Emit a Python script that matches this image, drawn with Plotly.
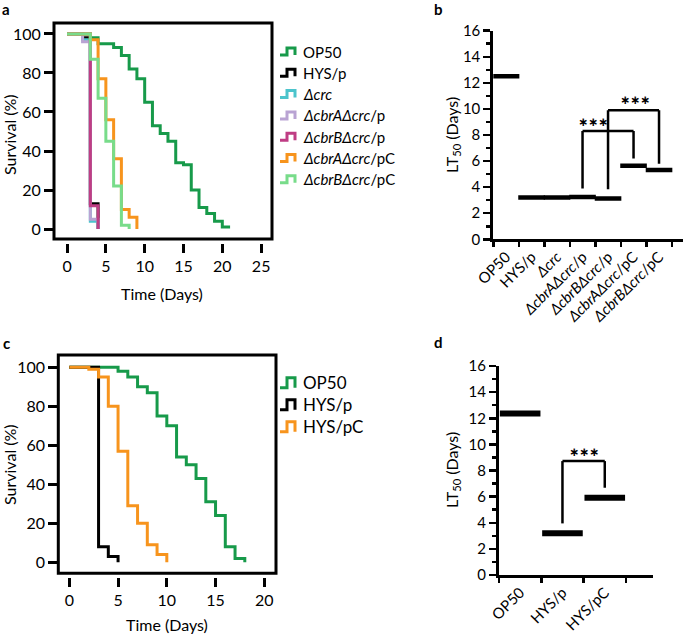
import plotly.graph_objects as go

# ---------------- data ----------------
# Panel a: Kaplan-Meier survival (days, % surviving after each step)
a_names = ["OP50", "HYS/p", "<i>Δcrc</i>", "<i>ΔcbrAΔcrc</i>/p", "<i>ΔcbrBΔcrc</i>/p",
           "<i>ΔcbrAΔcrc</i>/pC", "<i>ΔcbrBΔcrc</i>/pC"]
a_op50_t = [0, 3, 4, 6, 7, 8, 9, 10, 11, 12, 13, 14, 15, 16, 17, 18, 19, 20, 21]
a_op50_s = [100, 98, 95, 93, 89, 82, 77, 65, 53, 49, 45, 34, 33, 20, 11, 8, 4, 1, 1]
a_hys_t = [0, 2, 3, 4]
a_hys_s = [100, 98, 13, 0]
a_crc_t = [0, 2, 3, 4]
a_crc_s = [100, 97, 4, 0]
a_cbrA_p_t = [0, 2, 3, 4]
a_cbrA_p_s = [100, 96, 5, 0]
a_cbrB_p_t = [0, 3, 4]
a_cbrB_p_s = [100, 12, 0]
a_cbrA_pC_t = [0, 3, 4, 5, 6, 7, 8, 9]
a_cbrA_pC_s = [100, 97, 77, 56, 36, 10, 6, 0]
a_cbrB_pC_t = [0, 3, 4, 5, 6, 7, 8]
a_cbrB_pC_s = [100, 87, 67, 45, 22, 2, 0]

# Panel c
c_names = ["OP50", "HYS/p", "HYS/pC"]
c_op50_t = [0, 5, 6, 7, 8, 9, 10, 11, 12, 13, 14, 15, 16, 17, 18]
c_op50_s = [100, 98, 95, 90, 87, 75, 70, 54, 50, 43, 31, 24, 8, 2, 0]
c_hys_t = [0, 3, 4, 5]
c_hys_s = [100, 8, 3, 0]
c_hyspC_t = [0, 2, 3, 4, 5, 6, 7, 8, 9, 10]
c_hyspC_s = [100, 99, 95, 80, 57, 29, 20, 9, 4, 0]

# Panel b: LT50 (days)
b_cats = ["OP50", "HYS/p", "<i>Δcrc</i>", "<i>ΔcbrAΔcrc</i>/p", "<i>ΔcbrBΔcrc</i>/p",
          "<i>ΔcbrAΔcrc</i>/pC", "<i>ΔcbrBΔcrc</i>/pC"]
b_lt50 = [12.5, 3.2, 3.2, 3.25, 3.12, 5.65, 5.32]
# brackets: (left idx, right idx, left bottom, top, right bottom, star x, star y)
b_brackets = [(3, 5, 3.9, 8.3, 6.2, 3.42, 9.0),
              (4, 6, 3.84, 9.9, 5.8, 5.06, 10.7)]

# Panel d
d_cats = ["OP50", "HYS/p", "HYS/pC"]
d_lt50 = [12.37, 3.19, 5.92]
d_brackets = [(1, 2, 3.95, 8.72, 6.68, 1.5, 9.44)]

y_ticks_surv = [0, 20, 40, 60, 80, 100]
a_xticks = [0, 5, 10, 15, 20, 25]
c_xticks = [0, 5, 10, 15, 20]
lt_ticks = [0, 2, 4, 6, 8, 10, 12, 14, 16]
lt_minor = [1, 3, 5, 7, 9, 11, 13, 15]

# ---------------- styling ----------------
W, H = 685, 638
FONT = "Lato"
a_colors = ["#179a4a", "#000000", "#4cc4cc", "#b9a3d3", "#bf3d84", "#f7941d", "#78dc8a"]
c_colors = ["#179a4a", "#000000", "#f7941d"]


def px(x):
    return x / W


def py(y):
    return 1 - y / H


fig = go.Figure()

a_series = [(a_op50_t, a_op50_s), (a_hys_t, a_hys_s), (a_crc_t, a_crc_s),
            (a_cbrA_p_t, a_cbrA_p_s), (a_cbrB_p_t, a_cbrB_p_s),
            (a_cbrA_pC_t, a_cbrA_pC_s), (a_cbrB_pC_t, a_cbrB_pC_s)]
for (t, s), col, nm in zip(a_series, a_colors, a_names):
    fig.add_trace(go.Scatter(x=t, y=s, mode="lines", line=dict(color=col, width=3, shape="hv"),
                             name=nm, xaxis="x", yaxis="y", showlegend=False))

c_series = [(c_op50_t, c_op50_s), (c_hys_t, c_hys_s), (c_hyspC_t, c_hyspC_s)]
for (t, s), col, nm in zip(c_series, c_colors, c_names):
    fig.add_trace(go.Scatter(x=t, y=s, mode="lines", line=dict(color=col, width=3, shape="hv"),
                             name=nm, xaxis="x2", yaxis="y2", showlegend=False))

fig.add_trace(go.Scatter(x=b_cats, y=b_lt50, mode="markers", xaxis="x3", yaxis="y3",
                         marker=dict(symbol="line-ew", size=19, color="black",
                                     line=dict(color="black", width=4.5)),
                         showlegend=False))
fig.add_trace(go.Scatter(x=d_cats, y=d_lt50, mode="markers", xaxis="x4", yaxis="y4",
                         marker=dict(symbol="line-ew", size=29, color="black",
                                     line=dict(color="black", width=6)),
                         showlegend=False))

shapes = []
annotations = []

# frames for survival plots
for xa, ya in [("x", "y"), ("x2", "y2")]:
    shapes.append(dict(type="rect", xref=f"{xa} domain", yref=f"{ya} domain",
                       x0=0, x1=1, y0=0, y1=1, line=dict(color="black", width=3)))

# brackets
for xa, ya, brs in [("x3", "y3", b_brackets), ("x4", "y4", d_brackets)]:
    for (l, r, lb, top, rb, sx, sy) in brs:
        ln = dict(color="black", width=2.5)
        shapes.append(dict(type="line", xref=xa, yref=ya, x0=l, x1=l, y0=lb, y1=top, line=ln))
        shapes.append(dict(type="line", xref=xa, yref=ya, x0=l, x1=r, y0=top, y1=top, line=ln))
        shapes.append(dict(type="line", xref=xa, yref=ya, x0=r, x1=r, y0=top, y1=rb, line=ln))
        annotations.append(dict(xref=xa, yref=ya, x=sx, y=sy, text="<b>∗∗∗</b>",
                                showarrow=False, font=dict(size=12, color="black", family="DejaVu Sans"),
                                xanchor="center", yanchor="middle"))

# custom legends
def legend(names, colors, x_icon, y0, dy, h, fsize):
    for i, (nm, col) in enumerate(zip(names, colors)):
        yc = y0 + dy * i
        path = (f"M {px(x_icon)},{py(yc + h / 2)} L {px(x_icon + 7)},{py(yc + h / 2)} "
                f"L {px(x_icon + 7)},{py(yc - h / 2)} L {px(x_icon + 15)},{py(yc - h / 2)} "
                f"L {px(x_icon + 15)},{py(yc + h / 2)}")
        shapes.append(dict(type="path", xref="paper", yref="paper", path=path,
                           line=dict(color=col, width=3)))
        annotations.append(dict(xref="paper", yref="paper", x=px(x_icon + 21), y=py(yc),
                                text=nm, showarrow=False, xanchor="left", yanchor="middle",
                                font=dict(size=fsize, color="black", family=FONT)))


legend(a_names, a_colors, 280, 51.5, 21.3, 7, 15)
legend(c_names, c_colors, 280, 382.7, 22, 10, 17)

# axis titles & panel labels
def text(x, y, s, size, angle=0, bold=False):
    annotations.append(dict(xref="paper", yref="paper", x=px(x), y=py(y),
                            text=f"<b>{s}</b>" if bold else s, showarrow=False,
                            xanchor="center", yanchor="middle", textangle=angle,
                            font=dict(size=size, color="black", family=FONT)))


text(162, 293, "Time (Days)", 16)
text(9, 135, "Survival (%)", 16, -90)
text(167, 624, "Time (Days)", 16)
text(9, 465, "Survival (%)", 16, -90)
text(452, 135, "LT<sub>50</sub> (Days)", 16, -90)
text(452, 470, "LT<sub>50</sub> (Days)", 16, -90)
text(6, 9, "a", 15, bold=True)
text(439, 9, "b", 15, bold=True)
text(6, 343, "c", 15, bold=True)
text(439, 342, "d", 15, bold=True)

tickfont16 = dict(size=16, color="black", family=FONT)
tickfont15 = dict(size=15, color="black", family=FONT)

fig.update_layout(
    width=W, height=H, margin=dict(l=0, r=0, t=0, b=0, autoexpand=False),
    paper_bgcolor="white", plot_bgcolor="white",
    font=dict(family=FONT, color="black"),
    shapes=shapes, annotations=annotations, hovermode=False,
    # panel a
    xaxis=dict(domain=[px(54), px(272)], range=[-1.68, 26.4], anchor="free", position=py(243),
               showline=False, showgrid=False, zeroline=False, ticks="outside", ticklen=9,
               tickwidth=3, tickcolor="black", tickvals=a_xticks, tickfont=tickfont16,
               automargin=False),
    yaxis=dict(domain=[py(239), py(23)], range=[-5.1, 105.6], anchor="x",
               showline=False, showgrid=False, zeroline=False, ticks="outside", ticklen=9,
               tickwidth=3, tickcolor="black", tickvals=y_ticks_surv, tickfont=tickfont16,
               automargin=False),
    # panel c
    xaxis2=dict(domain=[px(58.3), px(276)], range=[-1.13, 21.2], anchor="free", position=py(577),
                showline=False, showgrid=False, zeroline=False, ticks="outside", ticklen=9,
                tickwidth=3, tickcolor="black", tickvals=c_xticks, tickfont=tickfont16,
                automargin=False),
    yaxis2=dict(domain=[py(573.3), py(355)], range=[-5.64, 106.3], anchor="x2",
                showline=False, showgrid=False, zeroline=False, ticks="outside", ticklen=9,
                tickwidth=3, tickcolor="black", tickvals=y_ticks_surv, tickfont=tickfont16,
                automargin=False),
    # panel b
    xaxis3=dict(domain=[px(493.3), px(683)], range=[-0.5, 6.94], anchor="y3", type="category",
                categoryorder="array", categoryarray=b_cats,
                showline=True, linewidth=3, linecolor="black", showgrid=False, zeroline=False,
                ticks="outside", tickson="boundaries", ticklen=5, tickwidth=2.5, tickcolor="black",
                tickangle=-45, tickfont=dict(size=15, color="black", family=FONT),
                automargin=False),
    yaxis3=dict(domain=[py(239.3), py(30.7)], range=[0, 16], anchor="x3",
                showline=True, linewidth=3, linecolor="black", showgrid=False, zeroline=False,
                ticks="outside", ticklen=7, tickwidth=2.5, tickcolor="black", tickvals=lt_ticks,
                tickfont=tickfont15, automargin=False,
                minor=dict(tickvals=lt_minor, ticks="outside", ticklen=4, tickwidth=2.5,
                           tickcolor="black", showgrid=False)),
    # panel d
    xaxis4=dict(domain=[px(499), px(653)], range=[-0.5, 3.14], anchor="y4", type="category",
                categoryorder="array", categoryarray=d_cats,
                showline=True, linewidth=3, linecolor="black", showgrid=False, zeroline=False,
                ticks="outside", tickson="boundaries", ticklen=5, tickwidth=2.5, tickcolor="black",
                tickangle=-45, tickfont=dict(size=15, color="black", family=FONT),
                automargin=False),
    yaxis4=dict(domain=[py(575), py(366)], range=[0, 16], anchor="x4",
                showline=True, linewidth=3, linecolor="black", showgrid=False, zeroline=False,
                ticks="outside", ticklen=7, tickwidth=2.5, tickcolor="black", tickvals=lt_ticks,
                tickfont=tickfont15, automargin=False,
                minor=dict(tickvals=lt_minor, ticks="outside", ticklen=4, tickwidth=2.5,
                           tickcolor="black", showgrid=False)),
)

# remove the default page margin so the figure starts at the window's corner
fig.write_html("out.html", config={"displayModeBar": False, "staticPlot": True},
               post_script="document.body.style.margin='0';document.body.style.overflow='hidden';")
